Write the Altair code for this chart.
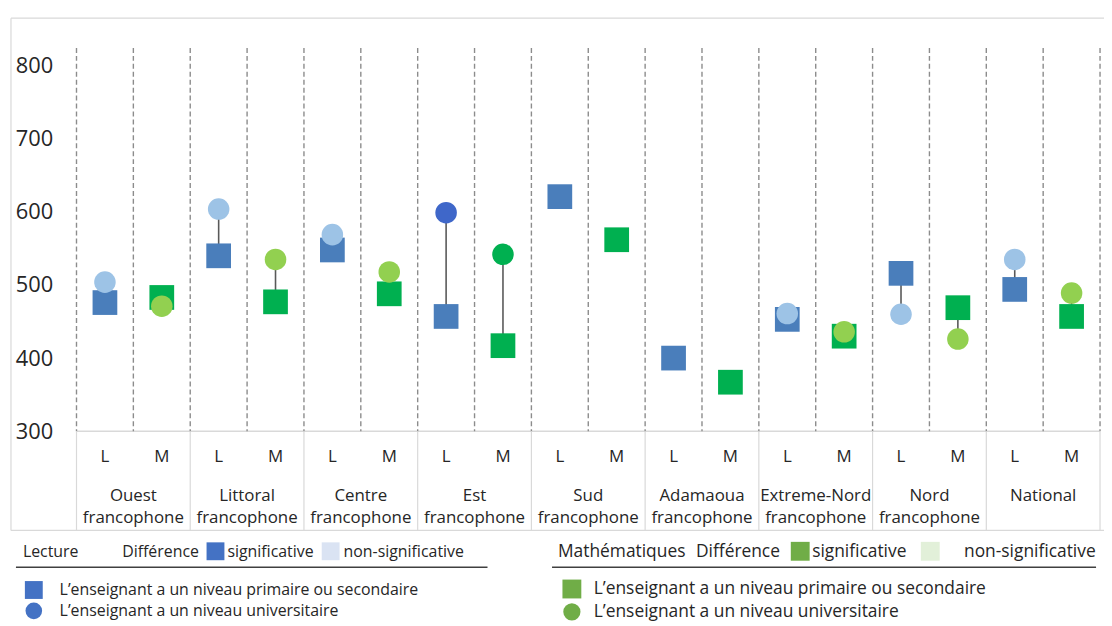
import altair as alt
import pandas as pd

# ---------------- data ----------------
regions_line1 = ["Ouest", "Littoral", "Centre", "Est", "Sud", "Adamaoua",
                 "Extreme-Nord", "Nord", "National"]
regions_line2 = ["francophone"] * 8 + [""]
subjects = ["L", "M"]

lecture_primsec = [476, 540, 548, 457, 621, 400, 453, 516, 494]
lecture_univ = [504, 604, 569, 599, None, None, 461, 460, 535]
lecture_sig = [False, False, False, True, False, False, False, False, False]

maths_primsec = [483, 477, 488, 417, 562, 367, 430, 469, 457]
maths_univ = [471, 535, 518, 542, None, None, 436, 426, 489]
maths_sig = [False, False, False, True, False, False, False, False, False]

y_ticks = [300, 400, 500, 600, 700, 800]

leg_lecture = "Lecture"
leg_maths = "Mathématiques"
leg_diff = "Différence"
leg_sig = "significative"
leg_nonsig = "non-significative"
leg_prim = "L’enseignant a un niveau primaire ou secondaire"
leg_univ = "L’enseignant a un niveau universitaire"

# ---------------- tables ----------------
sq_rows, ci_rows, conn_rows, lab_rows, grp_rows = [], [], [], [], []
series = {"L": (lecture_primsec, lecture_univ, lecture_sig),
          "M": (maths_primsec, maths_univ, maths_sig)}
for i, (l1, l2) in enumerate(zip(regions_line1, regions_line2)):
    grp_rows.append({"pos": 2 * i + 1, "l1": l1, "l2": l2})
    for j, s in enumerate(subjects):
        pos = 2 * i + j + 0.5
        ps, un, sg = series[s]
        lab_rows.append({"pos": pos, "lab": s})
        sq_rows.append({"pos": pos, "val": ps[i], "kind": s + "_sq"})
        if un[i] is not None:
            ci_rows.append({"pos": pos, "val": un[i],
                            "kind": s + ("_sig" if sg[i] else "_ns")})
            conn_rows.append({"pos": pos, "a": ps[i], "b": un[i]})

sq_df = pd.DataFrame(sq_rows)
ci_df = pd.DataFrame(ci_rows)
conn_df = pd.DataFrame(conn_rows)
lab_df = pd.DataFrame(lab_rows)
grp_df = pd.DataFrame(grp_rows)
bounds_df = pd.DataFrame({"b": list(range(2 * len(regions_line1) + 1))})
gbounds_df = pd.DataFrame({"b": list(range(0, 2 * len(regions_line1) + 1, 2))})

# ---------------- styling ----------------
W, H = 1031, 386
FONT = "Open Sans"
TXT = "#262626"
GRID = "#d9d9d9"

xscale = alt.Scale(domain=[0, 18], nice=False, zero=False)
yscale = alt.Scale(domain=[300, 824.5], nice=False, zero=False)
yaxis = alt.Axis(values=y_ticks, ticks=False, domain=False, grid=False,
                 labelFontSize=22, labelFont=FONT, labelColor=TXT,
                 labelPadding=24, title=None)
cscale = alt.Scale(domain=["L_sq", "L_sig", "L_ns", "M_sq", "M_sig", "M_ns"],
                   range=["#4a7ebb", "#3f67c9", "#9dc3e6",
                          "#00b050", "#00b050", "#92d050"])


def one():
    return alt.Data(values=[{"a": 1}])


def xq(f):
    return alt.X(f"{f}:Q", scale=xscale, axis=None)


def yq(f):
    return alt.Y(f"{f}:Q", scale=yscale, axis=yaxis)


layers = []

# frame
layers.append(alt.Chart(one()).mark_rule(color=GRID, strokeWidth=1.2).encode(
    x=alt.value(-66), x2=alt.value(W + 4), y=alt.value(-30)))
layers.append(alt.Chart(one()).mark_rule(color=GRID, strokeWidth=1.2).encode(
    x=alt.value(-66), y=alt.value(-30), y2=alt.value(486)))
layers.append(alt.Chart(one()).mark_rule(color=GRID, strokeWidth=1.2).encode(
    x=alt.value(-66), x2=alt.value(W + 4), y=alt.value(486)))
# baseline
layers.append(alt.Chart(one()).mark_rule(color=GRID, strokeWidth=1.5).encode(
    x=alt.value(0), x2=alt.value(W), y=alt.value(H)))
# dashed column separators
layers.append(alt.Chart(bounds_df).mark_rule(
    color="#8c8c8c", strokeWidth=1.4, strokeDash=[5, 3]).encode(
    x=xq("b"), y=alt.value(0), y2=alt.value(H)))
# group separators in the label area
layers.append(alt.Chart(gbounds_df).mark_rule(color=GRID, strokeWidth=1.2).encode(
    x=xq("b"), y=alt.value(H), y2=alt.value(486)))

# connectors
layers.append(alt.Chart(conn_df).mark_rule(color="#595959", strokeWidth=1.6).encode(
    x=xq("pos"), y=yq("a"), y2="b:Q"))
# squares
layers.append(alt.Chart(sq_df).mark_square(size=620, opacity=1).encode(
    x=xq("pos"), y=yq("val"),
    color=alt.Color("kind:N", scale=cscale, legend=None)))
# circles
layers.append(alt.Chart(ci_df).mark_circle(size=470, opacity=1).encode(
    x=xq("pos"), y=yq("val"),
    color=alt.Color("kind:N", scale=cscale, legend=None)))

# category labels
layers.append(alt.Chart(lab_df).mark_text(font=FONT, fontSize=17, color=TXT).encode(
    x=xq("pos"), y=alt.value(412), text="lab:N"))
layers.append(alt.Chart(grp_df).mark_text(font=FONT, fontSize=17, color=TXT).encode(
    x=xq("pos"), y=alt.value(451), text="l1:N"))
layers.append(alt.Chart(grp_df).mark_text(font=FONT, fontSize=17, color=TXT).encode(
    x=xq("pos"), y=alt.value(474), text="l2:N"))


# legends
def ltext(txt, x, y, fs):
    return alt.Chart(one()).mark_text(text=txt, font=FONT, fontSize=fs, color=TXT,
                                      align="left", baseline="middle").encode(
        x=alt.value(x), y=alt.value(y))


def lsq(x, y, s, c):
    return alt.Chart(one()).mark_square(size=s * s, color=c, opacity=1).encode(
        x=alt.value(x), y=alt.value(y))


def lci(x, y, s, c):
    return alt.Chart(one()).mark_circle(size=s, color=c, opacity=1).encode(
        x=alt.value(x), y=alt.value(y))


# Lecture legend
FL = 16
layers += [
    ltext(leg_lecture, -54, 508, FL),
    ltext(leg_diff, 46, 508, FL),
    lsq(140, 507, 18, "#4472c4"),
    ltext(leg_sig, 152, 508, FL),
    lsq(256, 507, 18, "#dae3f3"),
    ltext(leg_nonsig, 269, 508, FL),
    alt.Chart(one()).mark_rule(color="#404040", strokeWidth=1.5).encode(
        x=alt.value(-61), x2=alt.value(414), y=alt.value(523)),
    lsq(-43, 546, 18, "#4472c4"),
    ltext(leg_prim, -17, 546, FL),
    lci(-43, 567, 280, "#4472c4"),
    ltext(leg_univ, -17, 567, FL),
]
# Mathématiques legend
FM = 17.5
layers += [
    ltext(leg_maths, 485, 508, FM),
    ltext(leg_diff, 624, 508, FM),
    lsq(729, 507, 19, "#70ad47"),
    ltext(leg_sig, 741, 508, FM),
    lsq(860, 507, 19, "#e2f0d9"),
    ltext(leg_nonsig, 894, 508, FM),
    alt.Chart(one()).mark_rule(color="#404040", strokeWidth=1.5).encode(
        x=alt.value(479), x2=alt.value(1027), y=alt.value(523)),
    lsq(499, 545, 19, "#70ad47"),
    ltext(leg_prim, 521, 545, FM),
    lci(499, 568, 300, "#70ad47"),
    ltext(leg_univ, 521, 568, FM),
]

chart = alt.layer(*layers).properties(
    width=W, height=H,
    padding={"left": 69, "top": 38, "right": 4, "bottom": 192},
    autosize=alt.AutoSizeParams(type="none"),
    background="white",
).configure_view(stroke=None)

chart.save("out.html", embed_options={"renderer": "svg", "actions": False})
